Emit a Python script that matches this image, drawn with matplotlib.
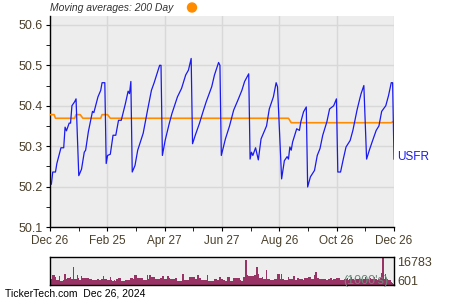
import numpy as np
import matplotlib
matplotlib.use("Agg")
import matplotlib.pyplot as plt
from matplotlib.patches import Ellipse
from matplotlib.ticker import MultipleLocator

plt.rcParams["font.family"] = ["Liberation Sans", "DejaVu Sans"]

# price vertices (trading day index, close)
price_days = [1, 2, 4, 5, 8, 10, 11, 12, 14, 15, 16, 18, 19, 21, 23, 25, 26, 28, 31, 32,
              35, 37, 38, 40, 41, 42, 44, 46, 48, 50, 52, 55, 57, 58, 59, 60, 62, 64, 68, 71,
              74, 76, 80, 81, 82, 84, 87, 89, 93, 96, 99, 101, 103, 104, 106, 109, 112, 114, 118, 120,
              123, 124, 125, 128, 131, 134, 137, 140, 142, 145, 146, 147, 148, 150, 152, 154, 158, 160, 163, 165,
              166, 169, 171, 173, 174, 175, 176, 177, 180, 182, 183, 185, 187, 188, 190, 193, 195, 197, 199, 202,
              204, 207, 209, 210, 212, 214, 216, 219, 221, 224, 226, 227, 229, 231, 233, 235, 238, 240, 242, 245,
              247, 249, 250, 251]
price = [50.206, 50.236, 50.236, 50.257, 50.296, 50.296, 50.347, 50.338, 50.357, 50.357,
         50.400, 50.410, 50.417, 50.227, 50.243, 50.285, 50.290, 50.336, 50.386, 50.383,
         50.422, 50.438, 50.457, 50.457, 50.257, 50.277, 50.280, 50.327, 50.327, 50.364,
         50.364, 50.405, 50.436, 50.430, 50.460, 50.236, 50.252, 50.290, 50.332, 50.386,
         50.438, 50.457, 50.500, 50.500, 50.277, 50.314, 50.356, 50.381, 50.422, 50.443,
         50.476, 50.488, 50.517, 50.306, 50.327, 50.356, 50.389, 50.410, 50.447, 50.476,
         50.507, 50.500, 50.277, 50.318, 50.350, 50.389, 50.413, 50.438, 50.460, 50.479,
         50.268, 50.285, 50.277, 50.296, 50.266, 50.318, 50.350, 50.392, 50.422, 50.457,
         50.447, 50.219, 50.264, 50.274, 50.268, 50.298, 50.290, 50.310, 50.343, 50.339,
         50.360, 50.385, 50.397, 50.199, 50.224, 50.240, 50.277, 50.294, 50.327, 50.360,
         50.392, 50.400, 50.417, 50.236, 50.236, 50.268, 50.298, 50.314, 50.339, 50.389,
         50.417, 50.430, 50.450, 50.268, 50.290, 50.310, 50.339, 50.350, 50.386, 50.400,
         50.425, 50.457, 50.457, 50.268]

# 200 day moving average (steps)
ma_days = [0, 3, 4, 18, 19, 22, 24, 37, 38, 42, 44, 174, 176, 249, 251]
ma = [50.378, 50.378, 50.369, 50.369, 50.378, 50.378, 50.369, 50.369, 50.378, 50.378,
      50.369, 50.369, 50.358, 50.358, 50.362]

# daily volume (1000's)
volume = [4600, 4030, 6320, 6320, 5180, 3460, 3460, 5750, 2890, 2890,
          3460, 6890, 4030, 4600, 4600, 5180, 4030, 10900, 4030, 4030,
          6320, 4600, 3460, 5750, 4600, 4600, 4600, 4600, 4600, 4030,
          4030, 3460, 3460, 3460, 3460, 4030, 3460, 3460, 4030, 5750,
          4030, 4030, 3460, 3460, 5180, 3460, 2890, 3460, 2890, 4030,
          4600, 4600, 2890, 2890, 2890, 3460, 3460, 3460, 3460, 4600,
          4600, 4030, 6320, 6320, 4600, 4600, 4600, 4600, 3460, 3460,
          3460, 6320, 4030, 6320, 5180, 5180, 5180, 4030, 4030, 4030,
          4030, 4600, 5750, 5750, 4030, 4030, 5750, 4600, 4030, 4030,
          4030, 4030, 4600, 2890, 2890, 2890, 2890, 6890, 3460, 3460,
          3460, 3460, 5180, 5180, 5180, 5180, 4030, 4030, 6320, 4600,
          4600, 3460, 3460, 3460, 3460, 6320, 2890, 2890, 2890, 2890,
          4030, 4030, 3460, 3460, 5180, 4030, 4030, 3460, 2890, 2890,
          5180, 5180, 2890, 2890, 4600, 4600, 4600, 4600, 4600, 3460,
          2890, 5180, 5180, 14900, 6320, 5750, 5750, 5750, 5750, 6320,
          6320, 10900, 6890, 4600, 4600, 5180, 4030, 4030, 9180, 4030,
          4030, 3460, 3460, 3460, 4030, 4030, 6890, 6890, 4030, 6890,
          4030, 3460, 3460, 3460, 5180, 4030, 4030, 4030, 5750, 3460,
          3460, 4600, 4030, 4030, 4030, 3460, 4600, 4600, 4600, 5180,
          5180, 4030, 4030, 6320, 8040, 4600, 4600, 4030, 4030, 4030,
          4030, 4030, 3460, 4030, 4030, 4600, 3460, 4030, 4030, 4600,
          4600, 4600, 3460, 3460, 3460, 4030, 4030, 4600, 3460, 4030,
          5180, 4030, 3460, 4600, 4030, 4030, 4600, 4030, 3460, 4030,
          5180, 4030, 4030, 3460, 4600, 4030, 4030, 5180, 4030, 3460,
          4030, 4600, 7460, 16783, 4030, 6890, 4030, 3460, 3460, 2320,
          1740, 1170]
vol_low = 601

tick_labels = ["Dec 26", "Feb 25", "Apr 27", "Jun 27", "Aug 26", "Oct 26", "Dec 26"]

TXT = "#4a3f2a"
BG = "#ededed"

fig = plt.figure(figsize=(4.5, 3), dpi=100)

# --- price panel ---
ax = fig.add_axes([50 / 450, 1 - 227 / 300, 344 / 450, 211 / 300])
ax.set_facecolor(BG)
ax.plot(ma_days, ma, color="#ff8c00", lw=1.2, zorder=3)
ax.plot(price_days, price, color="#1a1aee", lw=0.9, zorder=4)

n_days = len(volume) - 1
ax.set_xlim(0, n_days)
ax.set_ylim(50.1, 50.622)
xt = np.linspace(0, n_days, len(tick_labels))
ax.set_xticks(xt)
ax.set_xticklabels(tick_labels)
ax.set_xticks((xt[:-1] + xt[1:]) / 2, minor=True)
ax.set_yticks([50.1, 50.2, 50.3, 50.4, 50.5, 50.6])
ax.yaxis.set_minor_locator(MultipleLocator(0.05))
ax.grid(True, which="major", color="#d8d8d8", lw=1)
ax.set_axisbelow(True)
for s in ["top", "right"]:
    ax.spines[s].set_visible(False)
for s in ["left", "bottom"]:
    ax.spines[s].set_color("black")
    ax.spines[s].set_linewidth(1)
ax.tick_params(axis="both", which="both", length=3, color="black", labelcolor=TXT)
ax.tick_params(axis="y", labelsize=9, pad=2)
ax.tick_params(axis="x", labelsize=8.5, pad=3)

# ticker label next to the last price
ax.text(1.008, 0.332, "USFR", transform=ax.transAxes, color="#1a1aee",
        fontsize=8.5, va="center", ha="left")

# legend line above chart
fig.text(50 / 450, 1 - 8 / 300, "Moving averages: 200 Day", style="italic",
         fontsize=7.5, color="#333333", va="center", ha="left")
fig.add_artist(Ellipse((192 / 450, 1 - 7.5 / 300), 9 / 450, 9 / 300,
                       transform=fig.transFigure, color="#ff8c00"))

# --- volume panel ---
vax = fig.add_axes([50 / 450, 1 - 285 / 300, 344 / 450, 28.3 / 300])
vax.set_facecolor(BG)
vax.bar(np.arange(len(volume)), volume, width=1.0, color="#993366", linewidth=0)
vax.set_xlim(0, n_days)
vax.set_ylim(vol_low, max(volume))
vax.set_xticks([])
vax.set_yticks([])
for s in vax.spines.values():
    s.set_color("black")
    s.set_linewidth(1)
vax.text(1.01, 0.78, f"{max(volume)}", transform=vax.transAxes, color=TXT,
         fontsize=9, va="center", ha="left")
vax.text(1.01, 0.1, f"{vol_low}", transform=vax.transAxes,
         color=TXT, fontsize=9, va="center", ha="left")
vax.text(0.985, 0.14, "(1000's)", transform=vax.transAxes, color="#6b8a7a",
         fontsize=9, va="center", ha="right")

fig.text(5 / 450, 1 - 294 / 300, "TickerTech.com  Dec 26, 2024", fontsize=7.5,
         color="black", va="center", ha="left")

fig.savefig("out.png", dpi=100)
